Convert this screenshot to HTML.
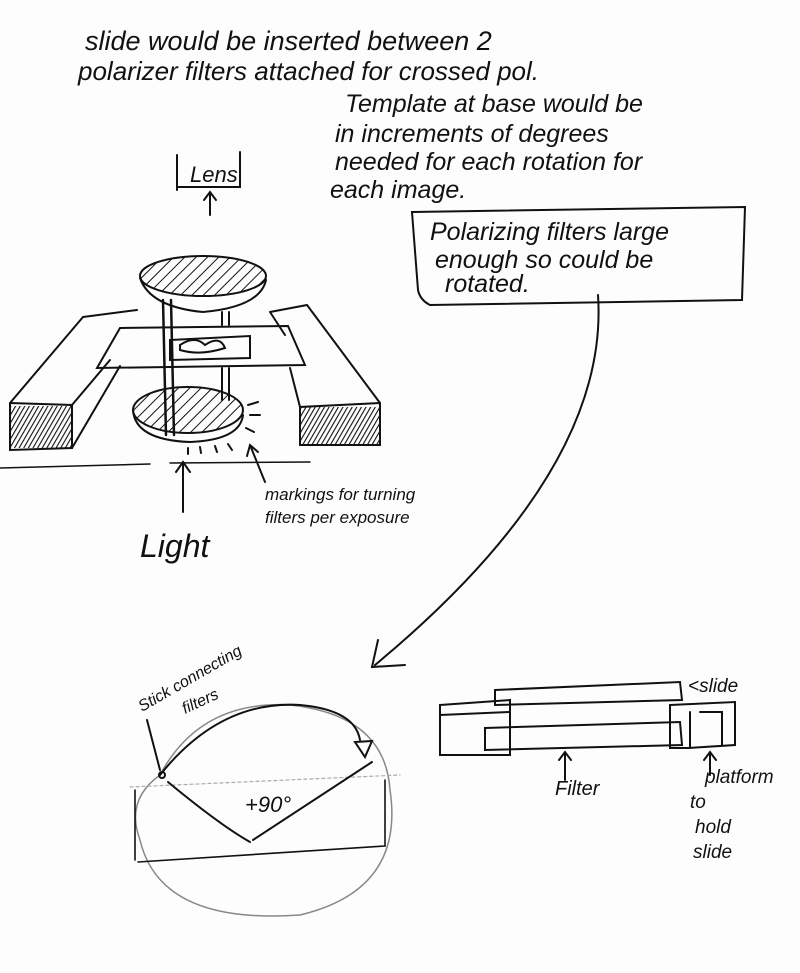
<!DOCTYPE html>
<html><head><meta charset="utf-8"><style>
html,body{margin:0;padding:0;background:#fff;}
svg{display:block}
text{font-family:"Liberation Sans","DejaVu Sans",sans-serif;font-style:italic;fill:#111}
</style></head><body>
<svg width="800" height="973" viewBox="0 0 800 973" xmlns="http://www.w3.org/2000/svg">
<defs>
<pattern id="h" width="8" height="8" patternUnits="userSpaceOnUse" patternTransform="rotate(45)">
<line x1="0" y1="0" x2="0" y2="8" stroke="#111" stroke-width="2"/></pattern>
<pattern id="d" width="4" height="4" patternUnits="userSpaceOnUse" patternTransform="rotate(30)">
<line x1="0" y1="0" x2="0" y2="4" stroke="#111" stroke-width="2.2"/></pattern>
</defs>
<rect width="800" height="973" fill="#fdfdfd"/>
<g font-size="25">
<text x="85" y="50" font-size="27">slide would be inserted between 2</text>
<text x="78" y="80" font-size="26">polarizer filters attached for crossed pol.</text>
<text x="345" y="112">Template at base would be</text>
<text x="335" y="142">in increments of degrees</text>
<text x="335" y="170">needed for each rotation for</text>
<text x="330" y="198">each image.</text>
<text x="430" y="240">Polarizing filters large</text>
<text x="435" y="268">enough so could be</text>
<text x="445" y="292">rotated.</text>
</g>
<g fill="none" stroke="#111" stroke-width="2" stroke-linecap="round">
<path d="M412 212 L745 207 L742 300 L430 305 Q420 300 418 290 Z"/>
<path d="M177 155 L177 190 M178 187 L240 187 L240 152"/>
<path d="M210 215 L210 192 M204 200 L210 192 L216 200"/>
<!-- left block -->
<path d="M83 317 L137 310 M83 317 L10 403 L10 450 L72 448 L72 405 L10 403 M72 405 L110 360 M72 448 L120 366"/>
<rect x="11" y="406" width="60" height="42" fill="url(#d)" stroke="none"/>
<!-- right block -->
<path d="M270 312 L307 305 L380 403 L380 445 L300 445 L300 407 L380 403 M270 312 L285 335 M290 368 L300 407"/>
<rect x="301" y="407" width="78" height="37" fill="url(#d)" stroke="none"/>
<!-- slide band -->
<path d="M120 328 L288 326 L305 365 L97 368 Z"/>
<path d="M170 340 L250 336 L250 358 L170 360 Z"/>
<path d="M180 345 Q195 335 205 345 Q220 335 225 348 Q200 356 180 350 Z"/>
<!-- top disc -->
<ellipse cx="203" cy="276" rx="63" ry="20" fill="url(#h)"/>
<path d="M140 278 Q150 307 203 312 Q260 307 266 280"/>
<!-- sticks -->
<path d="M163 300 L166 435 M171 300 L174 435" stroke-width="2.5"/>
<path d="M222 312 L222 325 M229 312 L229 325 M222 368 L222 400 M229 368 L229 400"/>
<!-- bottom disc -->
<ellipse cx="188" cy="410" rx="55" ry="23" fill="url(#h)"/>
<path d="M133 410 Q135 440 190 442 Q240 440 243 415"/>
<path d="M248 405 l10 -3 M250 415 l10 0 M246 428 l8 4 M188 448 l0 6 M200 447 l1 6 M215 446 l2 6 M228 444 l4 6"/>
<path d="M0 468 L150 464 M170 463 L310 462" stroke-width="1.5"/>
<path d="M183 512 L183 462 M176 472 L183 462 L190 472"/>
<path d="M265 482 L250 445 M247 456 L250 445 L258 452"/>
<path d="M598 295 Q610 470 375 665 M378 640 L372 667 L405 665"/>
<!-- bottom left -->
<path d="M160 775 Q200 700 290 705 Q385 715 390 790 Q405 890 300 915 Q160 925 140 840 Q125 800 160 775" stroke="#888" stroke-width="1.5"/>
<path d="M130 787 L400 775" stroke="#aaa" stroke-dasharray="3 3" stroke-width="1.2"/>
<path d="M135 790 L135 860 M138 862 L385 846 L385 780" stroke-width="1.6"/>
<path d="M168 782 Q220 825 250 842 M253 840 L372 762"/>
<path d="M160 775 Q220 700 300 705 Q355 710 360 740"/>
<path d="M355 742 L372 741 L365 757 Z"/>
<circle cx="162" cy="775" r="3"/>
<path d="M147 720 L160 770"/>
<!-- bottom right -->
<path d="M495 690 L680 682 L682 700 L495 705 Z"/>
<path d="M440 705 L510 700 L510 755 L440 755 Z M440 715 L510 712"/>
<path d="M485 728 L680 722 L682 745 L485 750 Z"/>
<path d="M670 705 L735 702 L735 745 L688 748 L670 748 Z M690 712 L690 748 M700 712 L722 712 L722 745"/>
<path d="M565 780 L565 752 M559 760 L565 752 L571 760"/>
<path d="M710 775 L710 752 M704 760 L710 752 L716 760"/>
</g>
<g font-size="17">
<text x="265" y="500">markings for turning</text>
<text x="265" y="523">filters per exposure</text>
<text x="688" y="692" font-size="19">&lt;slide</text>
<text x="555" y="795" font-size="20">Filter</text>
<text x="705" y="783" font-size="19">platform</text>
<text x="690" y="808" font-size="19">to</text>
<text x="695" y="833" font-size="19">hold</text>
<text x="693" y="858" font-size="19">slide</text>
<text x="245" y="812" font-size="22">+90°</text>
<text transform="translate(142 712) rotate(-30)" font-size="16">Stick connecting</text>
<text transform="translate(185 714) rotate(-25)" font-size="16">filters</text>
</g>
<text x="140" y="557" font-size="32">Light</text>
<text x="190" y="182" font-size="22">Lens</text>
</svg>
</body></html>
